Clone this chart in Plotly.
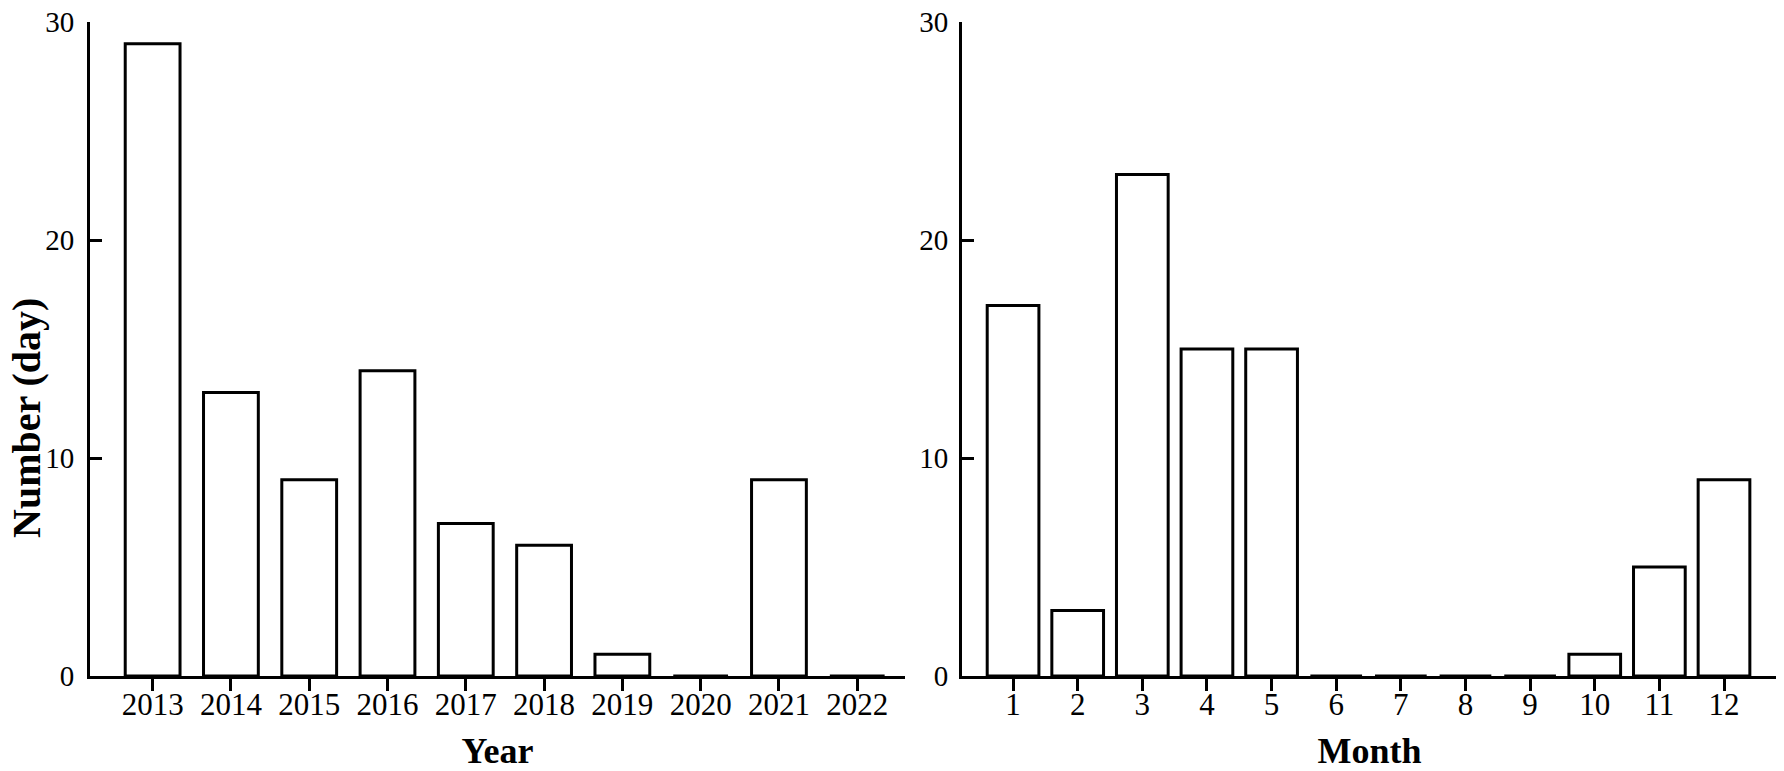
import plotly.graph_objects as go
from plotly.subplots import make_subplots

# 数据
years = ["2013", "2014", "2015", "2016", "2017", "2018", "2019", "2020", "2021", "2022"]
year_days = [29, 13, 9, 14, 7, 6, 1, 0, 9, 0]
months = ["1", "2", "3", "4", "5", "6", "7", "8", "9", "10", "11", "12"]
month_days = [17, 3, 23, 15, 15, 0, 0, 0, 0, 1, 5, 9]

# page body has an 8px margin, so the figure is a bit smaller and shifted
W, H = 1776, 763
T, B = 14, 95
FONT = "Liberation Serif"

fig = make_subplots(rows=1, cols=2)

fig.add_trace(go.Bar(x=years, y=year_days, width=0.7,
                     marker=dict(color="white", line=dict(color="black", width=3))),
              row=1, col=1)
fig.add_trace(go.Bar(x=months, y=month_days, width=0.8,
                     marker=dict(color="white", line=dict(color="black", width=3))),
              row=1, col=2)

axis_x = dict(type="category", showline=True, linecolor="black", linewidth=3,
              ticks="outside", ticklen=12, tickwidth=3, tickcolor="black",
              showgrid=False, zeroline=False, ticklabelstandoff=-13, automargin=False,
              tickfont=dict(family=FONT, size=31, color="black"))
axis_y = dict(range=[0, 30], tickvals=[0, 10, 20, 30], showline=True, linecolor="black",
              linewidth=3, ticks="inside", ticklen=12, tickwidth=3, tickcolor="black",
              showgrid=False, zeroline=False, ticklabelstandoff=7, automargin=False,
              ticklabeloverflow="allow",
              tickfont=dict(family=FONT, size=29, color="black"))

fig.update_xaxes(axis_x)
fig.update_yaxes(axis_y)

fig.update_xaxes(domain=[82 / W, 897 / W], range=[-0.8, 9.61],
                 title=dict(text="Year", standoff=22,
                            font=dict(family=FONT, size=36, color="black", weight="bold")),
                 row=1, col=1)
fig.update_xaxes(domain=[954 / W, 1769 / W], range=[-0.79, 11.82],
                 title=dict(text="Month", standoff=22,
                            font=dict(family=FONT, size=36, color="black", weight="bold")),
                 row=1, col=2)
fig.update_yaxes(ticklabelstandoff=5, row=1, col=2)

# y title as annotation (it sits a bit below the middle of the axis)
plot_h = H - T - B
fig.add_annotation(text="<b>Number (day)</b>", textangle=-90,
                   xref="paper", yref="paper", x=19 / W, y=(H - B - 410) / plot_h,
                   xanchor="center", yanchor="middle", showarrow=False,
                   font=dict(family=FONT, size=40, color="black"))

fig.update_layout(
    width=W, height=H,
    margin=dict(l=0, r=0, t=T, b=B),
    paper_bgcolor="white", plot_bgcolor="white",
    showlegend=False,
    font=dict(family=FONT, color="black"),
)

fig.write_html("out.html")
